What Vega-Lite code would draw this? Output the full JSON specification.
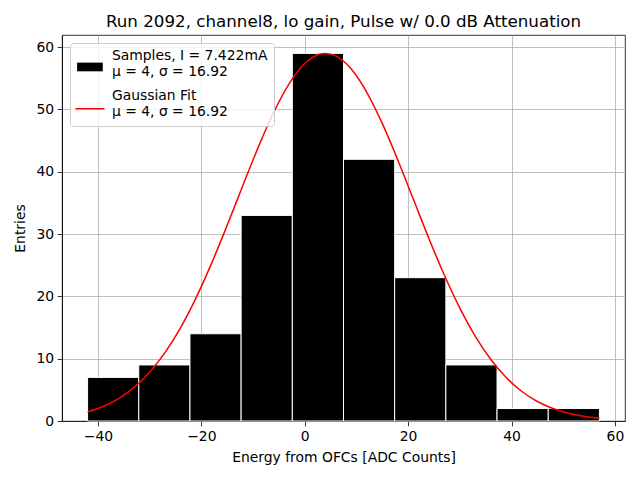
{
  "$schema": "https://vega.github.io/schema/vega-lite/v6.json",
  "autosize": {"type": "none"},
  "padding": {"left": 62, "top": 35, "right": 15, "bottom": 59},
  "width": 563,
  "height": 386,
  "title": {"text": "Run 2092, channel8, lo gain, Pulse w/ 0.0 dB Attenuation", "fontSize": 16.7, "fontWeight": "normal", "font": "DejaVu Sans", "color": "black", "offset": 4},
  "config": {
    "font": "DejaVu Sans",
    "view": {"stroke": "black", "strokeWidth": 0.8},
    "axis": {
      "labelFont": "DejaVu Sans", "labelFontSize": 13.9, "labelColor": "black",
      "titleFont": "DejaVu Sans", "titleFontSize": 13.9, "titleFontWeight": "normal", "titleColor": "black",
      "domainColor": "black", "domainWidth": 0.8, "tickColor": "black", "tickWidth": 0.8, "tickSize": 4.9,
      "labelPadding": 3.5, "gridColor": "#b0b0b0", "gridWidth": 0.8, "grid": true, "zindex": 1
    }
  },
  "layer": [
    {
      "data": {"values": [
        {"x0": -42.0, "x1": -32.1, "count": 7},
        {"x0": -32.1, "x1": -22.2, "count": 9},
        {"x0": -22.2, "x1": -12.3, "count": 14},
        {"x0": -12.3, "x1": -2.4, "count": 33},
        {"x0": -2.4, "x1": 7.5, "count": 59},
        {"x0": 7.5, "x1": 17.4, "count": 42},
        {"x0": 17.4, "x1": 27.3, "count": 23},
        {"x0": 27.3, "x1": 37.2, "count": 9},
        {"x0": 37.2, "x1": 47.1, "count": 2},
        {"x0": 47.1, "x1": 57.0, "count": 2}
      ]},
      "mark": {"type": "rect", "stroke": "white", "strokeWidth": 1},
      "encoding": {
        "x": {"field": "x0", "type": "quantitative", "scale": {"domain": [-46.95, 61.95], "nice": false, "zero": false},
              "axis": {"title": "Energy from OFCs [ADC Counts]", "values": [-40, -20, 0, 20, 40, 60], "labelExpr": "replace(datum.label, '-', '−')", "titlePadding": 7}},
        "x2": {"field": "x1"},
        "y": {"field": "count", "type": "quantitative", "scale": {"domain": [0, 61.95], "nice": false},
              "axis": {"title": "Entries", "values": [0, 10, 20, 30, 40, 50, 60], "titlePadding": 8}},
        "y2": {"datum": 0},
        "color": {"datum": "Samples, I = 7.422mA|μ = 4, σ = 16.92", "type": "nominal",
                  "scale": {"domain": ["Samples, I = 7.422mA|μ = 4, σ = 16.92", "Gaussian Fit|μ = 4, σ = 16.92"], "range": ["black", "red"]},
                  "legend": {
                    "title": null, "orient": "top-left", "offset": 8,
                    "labelExpr": "split(datum.label, '|')",
                    "labelFont": "DejaVu Sans", "labelFontSize": 13.9, "labelColor": "black", "labelLineHeight": 16, "labelLimit": 400,
                    "labelOffset": 15,
                    "symbolOffset": 7,
                    "symbolSize": 841, "rowPadding": 9.5,
                    "padding": 6,
                    "strokeColor": "#cccccc", "fillColor": "rgba(255,255,255,0.8)", "cornerRadius": 3,
                    "symbolType": {"expr": "test(/Gauss/, datum.value) ? 'M-1,0.85H1' : 'M-0.886,0.46H0.886V1.06H-0.886Z'"},
                    "symbolFillColor": {"expr": "test(/Gauss/, datum.value) ? 'transparent' : 'black'"},
                    "symbolStrokeColor": {"expr": "test(/Gauss/, datum.value) ? 'red' : 'black'"},
                    "symbolStrokeWidth": {"expr": "test(/Gauss/, datum.value) ? 1.5 : 0"}
                  }}
      }
    },
    {
      "data": {"values": [
        {"x": -42, "y": 1.465}, {"x": -39, "y": 2.336}, {"x": -36, "y": 3.608}, {"x": -33, "y": 5.401},
        {"x": -30, "y": 7.836}, {"x": -27, "y": 11.014}, {"x": -24, "y": 15.004}, {"x": -21, "y": 19.805},
        {"x": -18, "y": 25.336}, {"x": -15, "y": 31.409}, {"x": -12, "y": 37.729}, {"x": -9, "y": 43.918},
        {"x": -6, "y": 49.545}, {"x": -3, "y": 54.161}, {"x": 0, "y": 57.374}, {"x": 3, "y": 58.897},
        {"x": 4, "y": 59.0}, {"x": 6, "y": 58.589}, {"x": 9, "y": 56.48}, {"x": 12, "y": 52.76},
        {"x": 15, "y": 47.761}, {"x": 18, "y": 41.898}, {"x": 21, "y": 35.618}, {"x": 24, "y": 29.34},
        {"x": 27, "y": 23.422}, {"x": 30, "y": 18.118}, {"x": 33, "y": 13.582}, {"x": 36, "y": 9.867},
        {"x": 39, "y": 6.945}, {"x": 42, "y": 4.738}, {"x": 45, "y": 3.132}, {"x": 48, "y": 2.006},
        {"x": 51, "y": 1.245}, {"x": 54, "y": 0.749}, {"x": 57, "y": 0.437}
      ]},
      "mark": {"type": "line", "strokeWidth": 1.5, "interpolate": "monotone"},
      "encoding": {
        "x": {"field": "x", "type": "quantitative"},
        "y": {"field": "y", "type": "quantitative"},
        "color": {"datum": "Gaussian Fit|μ = 4, σ = 16.92", "type": "nominal"}
      }
    }
  ]
}
